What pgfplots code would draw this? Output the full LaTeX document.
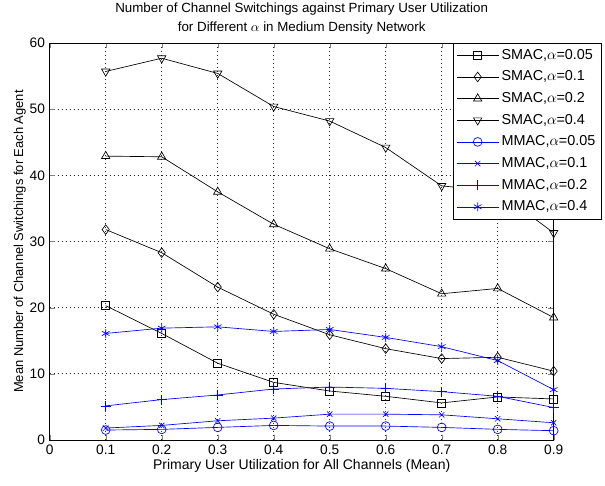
\documentclass[border=0pt]{standalone}
\usepackage{pgfplots}
\pgfplotsset{compat=1.18}
\usepackage{fontspec}
\setmainfont{Liberation Sans}
\begin{document}
\begin{tikzpicture}
\useasboundingbox (-37.3pt,-34.5pt) rectangle (416.5pt,330pt);
\begin{axis}[
  scale only axis,
  width=378pt, height=297.75pt,
  xmin=0, xmax=0.9, ymin=0, ymax=60,
  xtick={0,0.1,...,0.9}, ytick={0,10,...,60},
  xticklabel style={/pgf/number format/fixed},
  /pgf/number format/assume math mode=true,
  tick label style={font=\fontsize{10.3}{12}\selectfont},
  tick align=inside,
  major tick length=4pt,
  grid=major,
  major grid style={dash pattern=on 0.6pt off 2.4pt, black!85, line width=0.6pt},
  axis line style={line width=0.5pt},
  title={Number of Channel Switchings against Primary User Utilization\\for Different $\alpha$ in Medium Density Network},
  title style={font=\fontsize{10}{14.5}\selectfont, align=center, yshift=-3pt},
  xlabel={Primary User Utilization for All Channels (Mean)},
  ylabel={Mean Number of Channel Switchings for Each Agent},
  xlabel style={font=\fontsize{10.5}{12}\selectfont, yshift=3pt},
  ylabel style={font=\fontsize{9.7}{12}\selectfont, yshift=-4pt},
  legend cell align=left,
  legend style={at={(0.8,1)}, anchor=north west, font=\fontsize{10.8}{12}\selectfont,
    draw=black, fill=white, inner sep=2.5pt, row sep=3.2pt},
  legend image code/.code={\draw[mark repeat=2,mark phase=2,#1] plot coordinates {(0cm,0cm) (0.55cm,0cm) (1.1cm,0cm)};},
  every axis plot/.append style={line width=0.5pt, mark size=3pt, mark options={solid, fill=none}},
]
\addplot[black, mark=square] coordinates {(0.1,20.3) (0.2,16.1) (0.3,11.6) (0.4,8.7) (0.5,7.4) (0.6,6.6) (0.7,5.6) (0.8,6.5) (0.9,6.2)};
\addlegendentry{SMAC,$\alpha$=0.05}
\addplot[black, mark=diamond, mark size=3.6pt] coordinates {(0.1,31.8) (0.2,28.3) (0.3,23.1) (0.4,19.0) (0.5,15.9) (0.6,13.8) (0.7,12.3) (0.8,12.5) (0.9,10.4)};
\addlegendentry{SMAC,$\alpha$=0.1}
\addplot[black, mark=triangle, mark size=3.6pt] coordinates {(0.1,42.9) (0.2,42.8) (0.3,37.5) (0.4,32.6) (0.5,28.9) (0.6,25.9) (0.7,22.1) (0.8,22.9) (0.9,18.5)};
\addlegendentry{SMAC,$\alpha$=0.2}
\addplot[black, mark=triangle, mark size=3.6pt, mark options={rotate=180}] coordinates {(0.1,55.7) (0.2,57.7) (0.3,55.4) (0.4,50.4) (0.5,48.2) (0.6,44.2) (0.7,38.4) (0.8,37.6) (0.9,31.3)};
\addlegendentry{SMAC,$\alpha$=0.4}
\addplot[blue, mark=o, mark size=3.3pt] coordinates {(0.1,1.5) (0.2,1.6) (0.3,1.9) (0.4,2.2) (0.5,2.1) (0.6,2.1) (0.7,1.9) (0.8,1.6) (0.9,1.4)};
\addlegendentry{MMAC,$\alpha$=0.05}
\addplot[blue, mark=x, mark size=2.8pt] coordinates {(0.1,1.8) (0.2,2.2) (0.3,2.9) (0.4,3.3) (0.5,3.9) (0.6,3.9) (0.7,3.8) (0.8,3.2) (0.9,2.6)};
\addlegendentry{MMAC,$\alpha$=0.1}
\addplot[blue, mark=+, mark size=3.8pt] coordinates {(0.1,5.15) (0.2,6.1) (0.3,6.8) (0.4,7.7) (0.5,8.0) (0.6,7.8) (0.7,7.3) (0.8,6.6) (0.9,4.9)};
\addlegendentry{MMAC,$\alpha$=0.2}
\addplot[blue, mark=asterisk, mark size=3.3pt] coordinates {(0.1,16.1) (0.2,16.9) (0.3,17.1) (0.4,16.4) (0.5,16.7) (0.6,15.5) (0.7,14.1) (0.8,12.0) (0.9,7.6)};
\addlegendentry{MMAC,$\alpha$=0.4}
\end{axis}
\end{tikzpicture}
\end{document}
